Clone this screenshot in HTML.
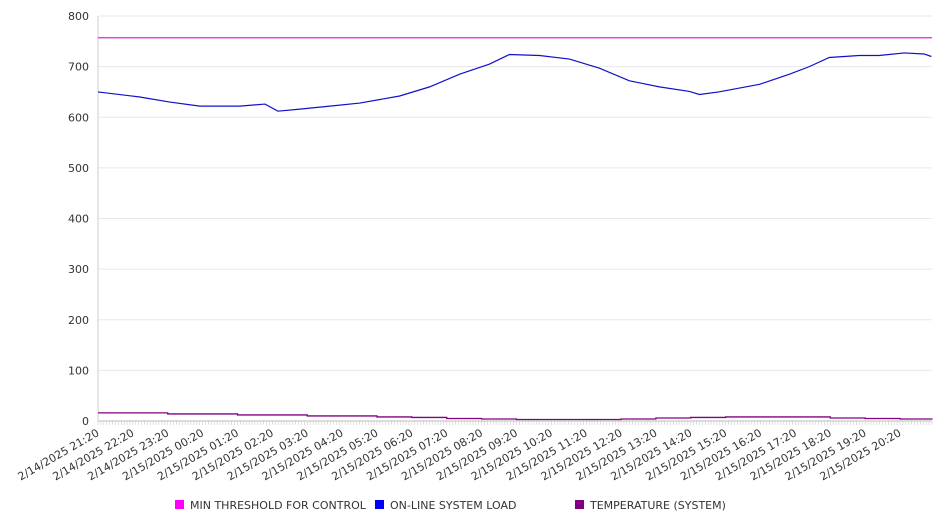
<!DOCTYPE html>
<html><head><meta charset="utf-8">
<style>
body{margin:0;background:#fff;width:946px;height:526px;overflow:hidden;font-family:"DejaVu Sans","Liberation Sans",sans-serif;}
svg text{font-family:"DejaVu Sans","Liberation Sans",sans-serif;font-size:11px;fill:#333;}
</style></head>
<body>
<svg id="chart" width="946" height="526" xmlns="http://www.w3.org/2000/svg"></svg>
<script>
const yTicks = [0,100,200,300,400,500,600,700,800];
const xLabels = ["2/14/2025 21:20","2/14/2025 22:20","2/14/2025 23:20","2/15/2025 00:20","2/15/2025 01:20","2/15/2025 02:20","2/15/2025 03:20","2/15/2025 04:20","2/15/2025 05:20","2/15/2025 06:20","2/15/2025 07:20","2/15/2025 08:20","2/15/2025 09:20","2/15/2025 10:20","2/15/2025 11:20","2/15/2025 12:20","2/15/2025 13:20","2/15/2025 14:20","2/15/2025 15:20","2/15/2025 16:20","2/15/2025 17:20","2/15/2025 18:20","2/15/2025 19:20","2/15/2025 20:20"];
const thresholdValue = 757;
// hours since 2/14/2025 21:20
const loadHours = [0,1.2,2.06,2.92,4.07,4.79,5.16,5.79,6.65,7.51,8.65,9.51,10.37,11.23,11.8,12.66,13.52,14.38,15.24,16.1,16.96,17.25,17.8,18.97,19.83,20.4,20.97,21.83,22.4,23.12,23.69,23.9];
const loadValues = [650,640,630,622,622,626,612,616,622,628,642,660,685,705,724,722,715,697,672,660,651,645,650,665,685,700,718,722,722,727,725,720];
const tempHours = [0,1,2,3,4,5,6,7,8,9,10,11,12,13,14,15,16,17,18,19,20,21,22,23,24];
const tempValues = [16,16,14,14,12,12,10,10,8,7,5,4,3,3,3,4,6,7,8,8,8,6,5,4,3];

const svg=document.getElementById('chart');
const NS='http://www.w3.org/2000/svg';
const X0=98,X1=932,Y0=421,Y1=16,HOUR=34.87;
const xs=h=>X0+h*HOUR;
const ys=v=>Y0-(v/800)*(Y0-Y1);
function mk(t,a){const e=document.createElementNS(NS,t);for(const k in a)e.setAttribute(k,a[k]);svg.appendChild(e);return e;}

yTicks.forEach(v=>{
  const g=mk('line',{x1:X0,x2:X1,y1:ys(v),y2:ys(v),stroke:v===0?'#bbb':'#e8e8e8','stroke-width':1});
  
  
  const t=mk('text',{x:89,y:ys(v)+4,'text-anchor':'end'});
  t.textContent=v;
  
  
});
const ax=mk('line',{x1:X0,x2:X0,y1:Y1,y2:Y0,stroke:'#ccc'});


for(let i=0;i<=24*12;i++){
  const x=X0+i*HOUR/12; if(x>X1)break;
  const tk=mk('line',{x1:x,x2:x,y1:Y0,y2:Y0+4,stroke:'#ccc','stroke-width':0.6});
  
  
}
xLabels.forEach((l,i)=>{
  const x=xs(i)+2,y=Y0+14;
  const t=mk('text',{x:x,y:y,'text-anchor':'end',transform:`rotate(-30 ${x} ${y})`});
  t.textContent=l;
  
  
});
const th=mk('line',{x1:X0,x2:X1,y1:ys(thresholdValue),y2:ys(thresholdValue),stroke:'#e020e0','stroke-width':1.3});


const lp=mk('polyline',{points:loadHours.map((h,i)=>xs(h)+','+ys(loadValues[i])).join(' '),fill:'none',stroke:'#1010cc','stroke-width':1.2});


let tp=[];tempHours.forEach((h,i)=>{const x=Math.min(xs(h),X1);tp.push(x+','+ys(tempValues[i]));if(i<tempHours.length-1)tp.push(Math.min(xs(tempHours[i+1]),X1)+','+ys(tempValues[i]));});
const tl=mk('polyline',{points:tp.join(' '),fill:'none',stroke:'#800080','stroke-width':1.3});



const legend=[["MIN THRESHOLD FOR CONTROL","#ff00ff",175],["ON-LINE SYSTEM LOAD","#0000ff",375],["TEMPERATURE (SYSTEM)","#800080",575]];
legend.forEach(([n,c,x])=>{
  const r=mk('rect',{x:x,y:500,width:9,height:9,fill:c});
  
  
  const t=mk('text',{x:x+15,y:509});
  t.textContent=n;
  
  
});
</script>
</body></html>
